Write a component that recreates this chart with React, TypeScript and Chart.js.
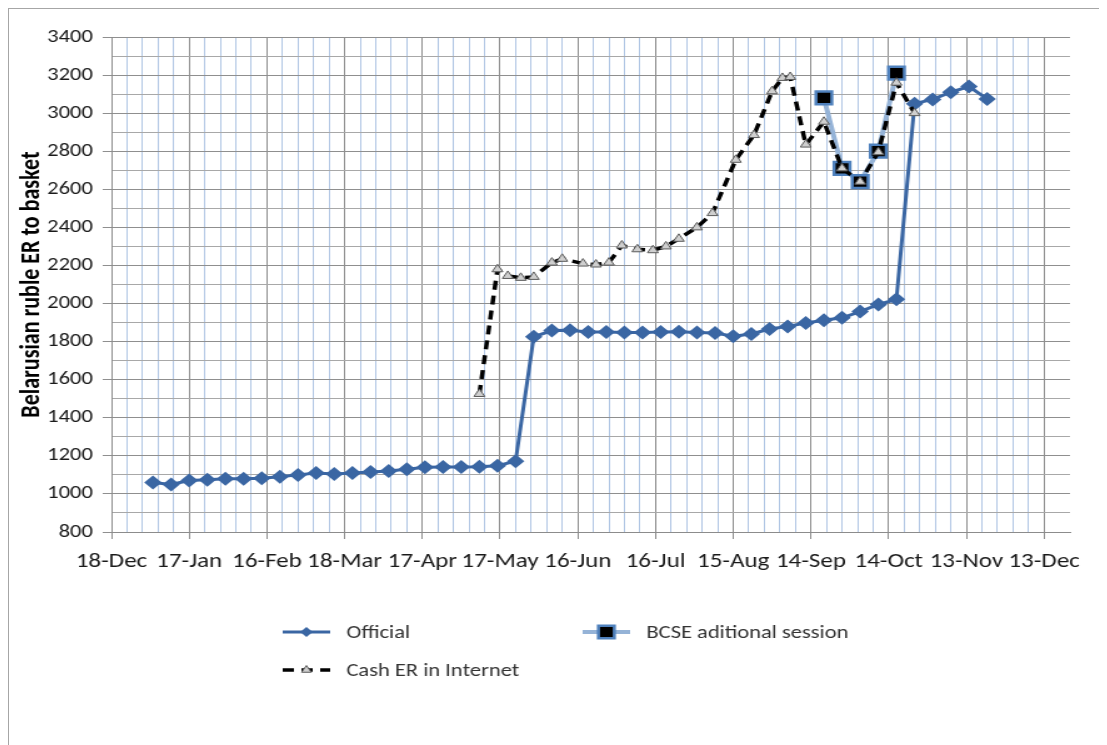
import React, { useEffect, useRef } from 'react';
import { Chart, registerables } from 'chart.js';

Chart.register(...registerables);

// ---------- data ----------
const BASE_DATE = '2010-12-18';

const xTickLabels = [
  '18-Dec', '17-Jan', '16-Feb', '18-Mar', '17-Apr', '17-May', '16-Jun',
  '16-Jul', '15-Aug', '14-Sep', '14-Oct', '13-Nov', '13-Dec',
];

const seriesNames = ['Official', 'BCSE aditional session', 'Cash ER in Internet'];
const yAxisTitle = 'Belarusian ruble ER to basket';

const officialDates = [
  '2011-01-03', '2011-01-10', '2011-01-17', '2011-01-24', '2011-01-31',
  '2011-02-07', '2011-02-14', '2011-02-21', '2011-02-28', '2011-03-07',
  '2011-03-14', '2011-03-21', '2011-03-28', '2011-04-04', '2011-04-11',
  '2011-04-18', '2011-04-25', '2011-05-02', '2011-05-09', '2011-05-16',
  '2011-05-23', '2011-05-30', '2011-06-06', '2011-06-13', '2011-06-20',
  '2011-06-27', '2011-07-04', '2011-07-11', '2011-07-18', '2011-07-25',
  '2011-08-01', '2011-08-08', '2011-08-15', '2011-08-22', '2011-08-29',
  '2011-09-05', '2011-09-12', '2011-09-19', '2011-09-26', '2011-10-03',
  '2011-10-10', '2011-10-17', '2011-10-24', '2011-10-31', '2011-11-07',
  '2011-11-14', '2011-11-21',
];
const officialValues = [
  1060, 1050, 1070, 1075, 1080,
  1080, 1082, 1090, 1100, 1110,
  1105, 1110, 1115, 1120, 1130,
  1140, 1142, 1142, 1143, 1148,
  1172, 1825, 1858, 1860, 1850,
  1850, 1848, 1848, 1850, 1852,
  1848, 1845, 1828, 1840, 1866,
  1880, 1898, 1912, 1925, 1958,
  1995, 2022, 3050, 3072, 3110,
  3140, 3075,
];

const bcseDates = ['2011-09-19', '2011-09-26', '2011-10-03', '2011-10-10', '2011-10-17'];
const bcseValues = [3080, 2710, 2640, 2800, 3210];

const cashDates = [
  '2011-05-09', '2011-05-16', '2011-05-20', '2011-05-25', '2011-05-30',
  '2011-06-06', '2011-06-10', '2011-06-18', '2011-06-23', '2011-06-28',
  '2011-07-03', '2011-07-09', '2011-07-15', '2011-07-20', '2011-07-25',
  '2011-08-01', '2011-08-07', '2011-08-16', '2011-08-23', '2011-08-30',
  '2011-09-03', '2011-09-06', '2011-09-12', '2011-09-19', '2011-09-26',
  '2011-10-03', '2011-10-10', '2011-10-17', '2011-10-24',
];
const cashValues = [
  1525, 2180, 2145, 2135, 2140,
  2215, 2235, 2210, 2205, 2215,
  2305, 2285, 2280, 2300, 2340,
  2400, 2475, 2755, 2885, 3115,
  3185, 3190, 2835, 2955, 2710,
  2640, 2795, 3160, 3000,
];

// ---------- helpers ----------
const toUTC = (s: string) => {
  const [y, m, d] = s.split('-').map(Number);
  return Date.UTC(y, m - 1, d);
};
const dayOf = (s: string) => Math.round((toUTC(s) - toUTC(BASE_DATE)) / 86400000);
const pts = (dates: string[], vals: number[]) => dates.map((d, i) => ({ x: dayOf(d), y: vals[i] }));

const STRETCH = 1091 / 873;
const FONT = 'Carlito, Calibri, Lato, "Liberation Sans", sans-serif';

function drawMarker(ctx: CanvasRenderingContext2D, style: string, x: number, y: number, r: number,
  fill: string, stroke: string, bw: number) {
  ctx.beginPath();
  if (style === 'rectRot') {
    ctx.moveTo(x, y - r); ctx.lineTo(x + r, y); ctx.lineTo(x, y + r); ctx.lineTo(x - r, y); ctx.closePath();
  } else if (style === 'rect') {
    const h = r * Math.SQRT1_2;
    ctx.rect(x - h, y - h, 2 * h, 2 * h);
  } else {
    ctx.moveTo(x, y - r); ctx.lineTo(x + r * 0.87, y + r * 0.5); ctx.lineTo(x - r * 0.87, y + r * 0.5); ctx.closePath();
  }
  ctx.fillStyle = fill;
  ctx.fill();
  if (bw > 0) { ctx.lineWidth = bw; ctx.strokeStyle = stroke; ctx.stroke(); }
}

const legendPlugin = {
  id: 'excelLegend',
  afterDraw(chart: any) {
    const ctx: CanvasRenderingContext2D = chart.ctx;
    const slots = [
      { ds: 0, x: 219, y: 623, r: 5 },
      { ds: 1, x: 459, y: 623, r: 9 },
      { ds: 2, x: 219, y: 661, r: 4.5 },
    ];
    ctx.save();
    slots.forEach((s) => {
      const d = chart.data.datasets[s.ds];
      const w = 38;
      ctx.beginPath();
      ctx.setLineDash(d.borderDash || []);
      ctx.strokeStyle = d.borderColor;
      ctx.lineWidth = d.borderWidth;
      ctx.moveTo(s.x, s.y);
      ctx.lineTo(s.x + w, s.y);
      ctx.stroke();
      ctx.setLineDash([]);
      drawMarker(ctx, d.pointStyle, s.x + w / 2, s.y, s.r, d.pointBackgroundColor, d.pointBorderColor, d.pointBorderWidth);
      ctx.fillStyle = '#333333';
      ctx.font = `18px ${FONT}`;
      ctx.textBaseline = 'middle';
      ctx.textAlign = 'left';
      ctx.fillText(d.label, s.x + w + 13, s.y + 1);
    });
    ctx.restore();
  },
};

export default function App() {
  const ref = useRef<HTMLCanvasElement>(null);
  useEffect(() => {
    if (!ref.current) return;
    const chart = new Chart(ref.current, {
      type: 'line',
      data: {
        datasets: [
          {
            label: seriesNames[0],
            data: pts(officialDates, officialValues),
            borderColor: '#3A66A3',
            backgroundColor: '#3A66A3',
            borderWidth: 3,
            pointStyle: 'rectRot',
            pointRadius: 7,
            pointBackgroundColor: '#3A66A3',
            pointBorderColor: '#3A66A3',
            pointBorderWidth: 0,
            tension: 0,
            order: 3,
          },
          {
            label: seriesNames[1],
            data: pts(bcseDates, bcseValues),
            borderColor: '#95B3D7',
            backgroundColor: '#95B3D7',
            borderWidth: 4,
            pointStyle: 'rect',
            pointRadius: 9,
            pointBackgroundColor: '#000000',
            pointBorderColor: '#4F81BD',
            pointBorderWidth: 2.5,
            tension: 0,
            order: 2,
          },
          {
            label: seriesNames[2],
            data: pts(cashDates, cashValues),
            borderColor: '#000000',
            backgroundColor: '#000000',
            borderWidth: 3.5,
            borderDash: [9, 6],
            pointStyle: 'triangle',
            pointRadius: 5,
            pointBackgroundColor: '#cfcfcf',
            pointBorderColor: '#5a5a5a',
            pointBorderWidth: 1,
            tension: 0,
            order: 1,
          },
        ] as any,
      },
      options: {
        animation: false,
        responsive: true,
        maintainAspectRatio: false,
        layout: { padding: { top: 28, right: 24, left: 0, bottom: 153 } },
        plugins: { legend: { display: false }, tooltip: { enabled: false } },
        scales: {
          x: {
            type: 'linear',
            min: 0,
            max: 370,
            afterFit: (s: any) => { s.height = 60; },
            ticks: {
              stepSize: 6,
              maxTicksLimit: 1000,
              autoSkip: false,
              maxRotation: 0,
              minRotation: 0,
              padding: 11,
              color: '#1a1a1a',
              font: { family: FONT, size: 20 },
              callback: (v: any) => {
                const n = Number(v);
                return n % 30 === 0 && n / 30 < xTickLabels.length ? xTickLabels[n / 30] : '';
              },
            },
            grid: {
              lineWidth: 1,
              tickLength: 7,
              color: (c: any) => {
                const v = c.tick ? c.tick.value : 0;
                if (v > 366) return 'rgba(0,0,0,0)';
                return v % 30 === 0 ? '#8c8c8c' : '#b0c6e4';
              },
              tickColor: (c: any) => {
                const v = c.tick ? c.tick.value : 0;
                return v % 30 === 0 && v <= 366 ? '#8c8c8c' : 'rgba(0,0,0,0)';
              },
            },
            border: { display: true, color: '#8c8c8c', width: 1 },
          },
          y: {
            type: 'linear',
            min: 800,
            max: 3400,
            afterFit: (s: any) => { s.width = 82; },
            title: {
              display: true,
              text: yAxisTitle,
              color: '#000000',
              font: { family: FONT, size: 22, weight: 'bold' },
              padding: { top: 5, bottom: 0 },
            },
            ticks: {
              stepSize: 100,
              autoSkip: false,
              padding: 8,
              color: '#1a1a1a',
              font: { family: FONT, size: 18 },
              callback: (v: any) => (Number(v) % 200 === 0 ? String(v) : ''),
            },
            grid: {
              lineWidth: 1,
              tickLength: 7,
              color: (c: any) => {
                const v = c.tick ? c.tick.value : 0;
                return v % 200 === 0 ? '#8f8f8f' : '#a8a8a8';
              },
              tickColor: (c: any) => {
                const v = c.tick ? c.tick.value : 0;
                return v % 200 === 0 ? '#8f8f8f' : 'rgba(0,0,0,0)';
              },
            },
            border: { display: true, color: '#8c8c8c', width: 1 },
          },
        },
      } as any,
      plugins: [legendPlugin],
    });
    return () => chart.destroy();
  }, []);

  return (
    <div
      style={{
        width: 1093,
        height: 745,
        border: '1px solid #a6a6a6',
        boxSizing: 'border-box',
        overflow: 'hidden',
        background: '#ffffff',
      }}
    >
      <div style={{ width: 873, height: 736, transform: `scaleX(${STRETCH})`, transformOrigin: '0 0' }}>
        <canvas ref={ref} />
      </div>
    </div>
  );
}
